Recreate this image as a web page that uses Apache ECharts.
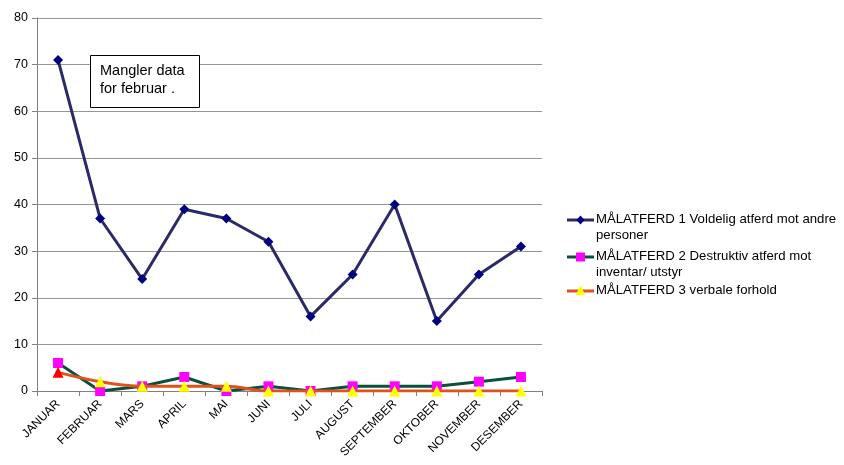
<!DOCTYPE html>
<html>
<head>
<meta charset="utf-8">
<script src="https://cdn.jsdelivr.net/npm/echarts@6/dist/echarts.min.js"></script>
<style>
  html, body { margin: 0; padding: 0; background: #fff; }
  #chart { width: 844px; height: 465px; }
</style>
</head>
<body>
<div id="chart"></div>
<script>
// Months on the category axis
const months = ['JANUAR', 'FEBRUAR', 'MARS', 'APRIL', 'MAI', 'JUNI', 'JULI',
  'AUGUST', 'SEPTEMBER', 'OKTOBER', 'NOVEMBER', 'DESEMBER'];

// Series names, each legend entry split over lines
const seriesNames = [
  'MÅLATFERD 1 Voldelig atferd mot andre personer',
  'MÅLATFERD 2 Destruktiv atferd mot inventar/ utstyr',
  'MÅLATFERD 3 verbale forhold'
];
const legendLines = [
  ['MÅLATFERD 1 Voldelig atferd mot andre', 'personer'],
  ['MÅLATFERD 2 Destruktiv atferd mot', 'inventar/ utstyr'],
  ['MÅLATFERD 3 verbale forhold']
];

// Monthly counts per series
const voldelig = [71, 37, 24, 39, 37, 32, 16, 25, 40, 15, 25, 31];
const destruktiv = [6, 0, 1, 3, 0, 1, 0, 1, 1, 1, 2, 3];
const verbale = [4, 2, 1, 1, 1, 0, 0, 0, 0, 0, 0, 0];

// Y axis range
const yMin = 0, yMax = 80, yStep = 10;

const noteText = ['Mangler data', 'for februar .'];

const lineColors = ['#2b2a66', '#0b4f3f', '#e0521c'];
const markerColors = ['#000080', '#ff00ff', '#ffff00'];
const markerShapes = ['diamond', 'rect', 'triangle'];

const FONT = '"Liberation Sans", Arial, sans-serif';

const chart = echarts.init(document.getElementById('chart'), null, { renderer: 'canvas' });

// Legend drawn as graphic elements so wrapped text keeps the symbol on the first line
const legendTops = [220, 257, 291];
const legendGraphics = [];
legendLines.forEach((lines, i) => {
  const y = legendTops[i];
  legendGraphics.push({
    type: 'line',
    shape: { x1: 567, y1: y, x2: 594, y2: y },
    style: { stroke: lineColors[i], lineWidth: 3 }
  });
  const sym = markerShapes[i];
  if (sym === 'diamond') {
    legendGraphics.push({ type: 'polygon', shape: { points: [[580.5, y - 4.5], [584.5, y], [580.5, y + 4.5], [576.5, y]] }, style: { fill: markerColors[i] } });
  } else if (sym === 'rect') {
    legendGraphics.push({ type: 'rect', shape: { x: 576, y: y - 4.5, width: 9, height: 9 }, style: { fill: markerColors[i] } });
  } else {
    legendGraphics.push({ type: 'polygon', shape: { points: [[580.5, y - 5.5], [585.5, y + 4], [575.5, y + 4]] }, style: { fill: markerColors[i] } });
  }
  legendGraphics.push({
    type: 'text', left: 596, top: y - 9,
    style: { text: lines.join('\n'), font: '13.2px ' + FONT, fill: '#000', lineHeight: 16 }
  });
});

const option = {
  backgroundColor: '#fff',
  animation: false,
  grid: { left: 37, right: 302, top: 18, bottom: 74, containLabel: false },
  xAxis: {
    type: 'category',
    data: months,
    boundaryGap: true,
    axisLine: { lineStyle: { color: '#808080', width: 1 } },
    axisTick: { show: true, alignWithLabel: false, length: 5, lineStyle: { color: '#808080' } },
    axisLabel: {
      rotate: 45, interval: 0, margin: 11, color: '#000',
      fontFamily: FONT, fontSize: 12
    },
    splitLine: { show: false }
  },
  yAxis: {
    type: 'value',
    min: yMin, max: yMax, interval: yStep,
    axisLine: { show: true, lineStyle: { color: '#808080', width: 1 } },
    axisTick: { show: true, length: 5, inside: false, lineStyle: { color: '#808080' } },
    axisLabel: { color: '#000', fontFamily: FONT, fontSize: 12.5, margin: 9 },
    splitLine: { show: true, lineStyle: { color: '#969696', width: 1 } }
  },
  series: [
    {
      name: seriesNames[0], type: 'line', data: voldelig,
      symbol: markerShapes[0], symbolSize: 10,
      lineStyle: { color: lineColors[0], width: 3 },
      itemStyle: { color: markerColors[0] },
      z: 2
    },
    {
      name: seriesNames[1], type: 'line', data: destruktiv,
      symbol: markerShapes[1], symbolSize: 10,
      lineStyle: { color: lineColors[1], width: 3 },
      itemStyle: { color: markerColors[1] },
      z: 3
    },
    {
      name: seriesNames[2], type: 'line', smooth: 0.35,
      data: verbale.map((v, i) => i === 0 ? { value: v, itemStyle: { color: '#ff0000' } } : v),
      symbol: markerShapes[2], symbolSize: 11,
      lineStyle: { color: lineColors[2], width: 3 },
      itemStyle: { color: markerColors[2] },
      z: 4
    }
  ],
  graphic: [
    {
      type: 'rect', left: 90, top: 55,
      shape: { width: 109, height: 52 },
      style: { fill: '#fff', stroke: '#000', lineWidth: 1 },
      z: 10
    },
    {
      type: 'text', left: 100, top: 62,
      style: { text: noteText.join('\n'), font: '14.5px ' + FONT, fill: '#000', lineHeight: 18 },
      z: 11
    }
  ].concat(legendGraphics)
};

chart.setOption(option);
</script>
</body>
</html>
